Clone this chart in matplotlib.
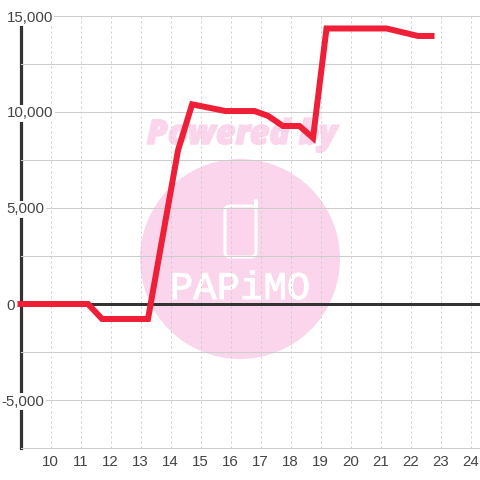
import matplotlib
matplotlib.use("Agg")
import matplotlib.pyplot as plt
import matplotlib.patheffects as pe
from matplotlib.patches import Circle, FancyBboxPatch
from matplotlib.ticker import FixedLocator

hours = [8.9, 11.25, 11.72, 13.25, 14.25, 14.72, 15.83, 16.8, 17.25, 17.75, 18.3, 18.75, 19.2, 21.2, 22.25, 22.8]
values = [0, 0, -780, -780, 8000, 10400, 10050, 10050, 9800, 9270, 9270, 8650, 14350, 14350, 13960, 13960]
x_ticks = list(range(10, 25))
y_major = [-5000, 0, 5000, 10000, 15000]
y_labels = ["-5,000", "0", "5,000", "10,000", "15,000"]
y_minor = [-7500, -2500, 2500, 7500, 12500]

DPI = 100
px = 72 / DPI
fig = plt.figure(figsize=(4.8, 4.8), dpi=DPI, facecolor="white")
plt.rcParams["font.family"] = "Liberation Sans"

# Background watermark layer, in pixel coordinates
bg = fig.add_axes([0, 0, 1, 1], zorder=0)
bg.set_xlim(0, 480)
bg.set_ylim(480, 0)
bg.axis("off")
PINK = "#fbd5ec"
bg.add_patch(Circle((240, 259), 100, fc=PINK, ec="none"))
bg.text(242, 135, "Powered by", color=PINK, fontsize=34 * px, fontweight=800, fontstyle="italic",
        family="Open Sans", ha="center", va="center",
        path_effects=[pe.withStroke(linewidth=1.5 * px, foreground=PINK)])
bg.add_patch(FancyBboxPatch((225, 206), 31, 51, boxstyle="round,pad=0,rounding_size=5",
                            fc="none", ec="white", lw=3 * px))
bg.plot([255.5, 255.5], [207, 201], color="white", lw=4 * px, solid_capstyle="round")
bg.text(240, 289, "PAPiMO", color="white", fontsize=39 * px, family="Liberation Mono",
        ha="center", va="center",
        path_effects=[pe.withStroke(linewidth=1 * px, foreground="white")])

# Main chart
ax = fig.add_axes([20.5 / 480, (480 - 448) / 480, (480 - 20.5) / 480, (448 - 16) / 480], zorder=1)
ax.patch.set_visible(False)
ax.set_xlim(9, 9 + (480 - 20.5) / 30)
ax.set_ylim(-7500, 15000)

for s in ("top", "right"):
    ax.spines[s].set_visible(False)
ax.spines["bottom"].set_color("#cccccc")
ax.spines["bottom"].set_linewidth(1 * px)
ax.spines["left"].set_color("#333333")
ax.spines["left"].set_linewidth(3.2 * px)
ax.spines["left"].set_zorder(1)

ax.set_xticks(x_ticks)
ax.set_yticks(y_major)
ax.set_yticklabels(y_labels)
ax.yaxis.set_minor_locator(FixedLocator(y_minor))
ax.grid(True, axis="y", which="both", color="#cccccc", lw=1 * px)
ax.grid(True, axis="x", color="#cccccc", lw=1 * px, linestyle=(0, (2, 3)))
ax.tick_params(axis="both", which="both", length=0)
ax.tick_params(axis="x", labelsize=15 * px, labelcolor="#444444", pad=5)
ax.tick_params(axis="y", labelsize=15 * px, labelcolor="#444444", pad=10)
ax.yaxis.get_major_ticks()[0].set_pad(13.6)
for lab in ax.get_yticklabels():
    lab.set_ha("left")
    lab.set_bbox(dict(fc="white", ec="none", boxstyle="square,pad=0.1"))

ax.axhline(0, color="#333333", lw=3 * px, zorder=2)
ax.plot(hours, values, color="#ee1f36", lw=6 * px, solid_joinstyle="miter",
        solid_capstyle="butt", zorder=3, clip_on=False)

fig.savefig("out.png", dpi=DPI)
